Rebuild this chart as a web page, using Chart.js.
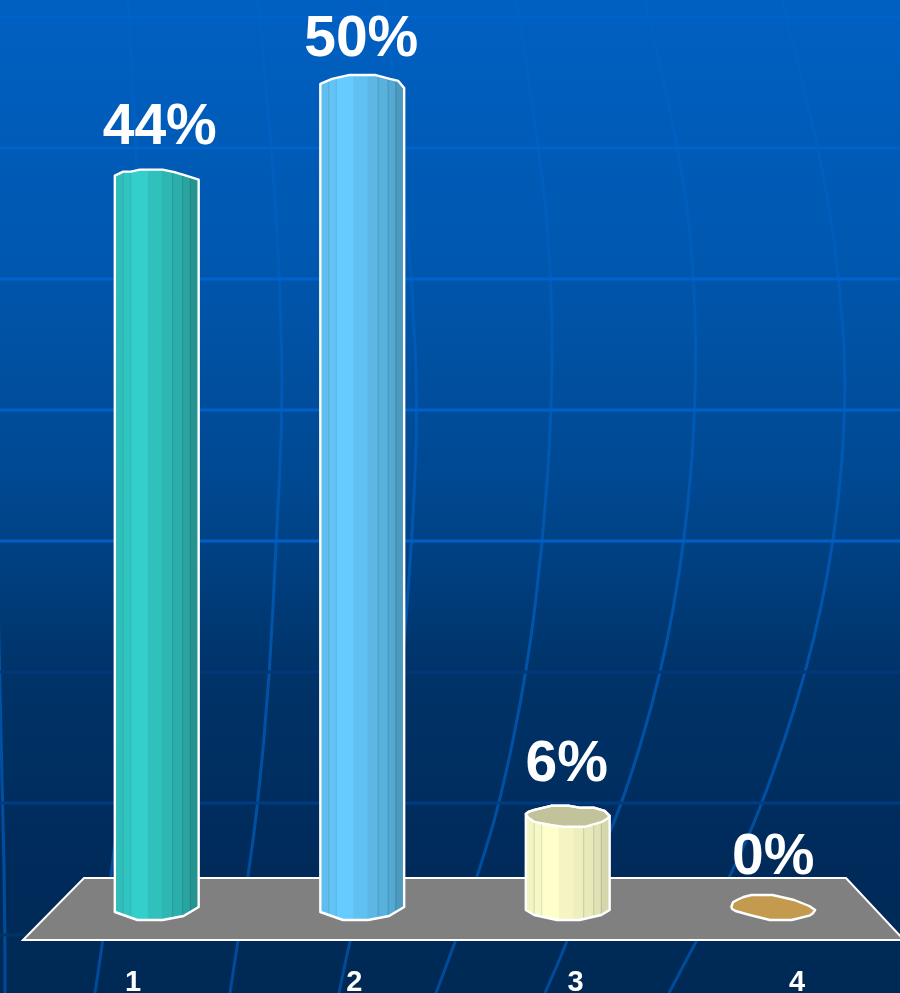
<!DOCTYPE html>
<html>
<head>
<meta charset="utf-8">
<title>Chart</title>
<style>
    html, body { margin: 0; padding: 0; background: #002a58; }
    canvas { display: block; }
</style>
<script src="https://cdn.jsdelivr.net/npm/chart.js@4"></script>
</head>
<body>
<canvas id="surveyChart" width="900" height="993"></canvas>
<script>
const categories = ['1', '2', '3', '4'];
const percentValues = [44.4, 50, 5.6, 0];
const percentLabels = ['44%', '50%', '6%', '0%'];
const barColors = ['#34cfca', '#66ccff', '#ffffcc', '#c49a4e'];

// bar look: outlines are [fraction of bar width, px from the value / base line]
const defaultBottom = [[1, -1], [0.82, 8], [0.57, 12], [0.27, 12], [0, 4]];
const barShapes = [
    {
        top: [[0, -1.5], [0.1, -5.5], [0.19, -5.5], [0.3, -7.5], [0.57, -7.5], [0.71, -5], [0.83, -2], [1, 2.5]],
        bottom: defaultBottom, depth: 1, labelDx: 3, labelGap: 33
    },
    {
        top: [[0, -1], [0.14, -6], [0.35, -10], [0.65, -10], [0.83, -6], [0.93, -4], [1, 3]],
        bottom: defaultBottom, depth: 0.85, labelDx: -1, labelGap: 29
    },
    {
        top: [[0, -2], [0.03, -4], [0.1, -6], [0.3, -10], [0.52, -10], [0.66, -8], [0.82, -8], [0.94, -5], [1, 0]],
        face: [[0.97, 3], [0.91, 6], [0.7, 11], [0.46, 11], [0.3, 9], [0.1, 6], [0.03, 2]],
        bottom: [[1, 2], [0.9, 7], [0.64, 12], [0.37, 12], [0.1, 7], [0, 2]],
        depth: 0.55, labelDx: -1, labelGap: 35
    },
    {
        top: [[0, -1.3], [0.02, -5.7], [0.067, -8], [0.145, -11], [0.24, -13], [0.49, -13], [0.75, -8], [0.93, -2], [1, 2]],
        bottom: [[0.97, 5.5], [0.93, 7.7], [0.72, 12], [0.46, 12], [0.22, 7], [0.05, 3], [0.01, 1]],
        depth: 0, labelDx: 0, labelGap: 34
    }
];
const facetStops = [0, 0.1, 0.19, 0.3, 0.4, 0.57, 0.69, 0.81, 0.9, 1];
const facetShades = [0.92, 0.95, 1, 1, 0.93, 0.88, 0.84, 0.79, 0.71];
const facetLines = [0.1, 0.19, 0.69, 0.81, 0.9];

// slide template behind the chart
const templateRows = [17, 148, 279, 410, 541, 672, 803, 935];
const templateRowColors = ['#0063cc', '#0063cc', '#0062cc', '#0060c8', '#0060c8', '#00387a', '#003d80', '#003468'];
const templateCurves = [
    [[128, 0], [136, 148], [142, 279], [144, 410], [140, 541], [132, 672], [120, 803], [103, 940], [95, 993]],
    [[258, 0], [272, 148], [280, 279], [283, 410], [276, 541], [270, 672], [258, 803], [248, 877], [238, 940], [230, 993]],
    [[385, 0], [400, 148], [412, 279], [418, 410], [412, 541], [402, 672], [384, 803], [350, 940], [339, 993]],
    [[516, 0], [540, 148], [552, 279], [552, 410], [543, 541], [527, 672], [500, 803], [477, 877], [456, 940], [436, 993]],
    [[645, 0], [680, 148], [695, 279], [696, 410], [685, 541], [662, 672], [623, 803], [590, 877], [568, 940], [545, 993]],
    [[782, 0], [820, 148], [840, 279], [847, 400], [835, 541], [807, 672], [763, 803], [730, 877], [697, 940], [669, 993]],
    [[-2, 600], [3, 800], [5, 935], [5, 993]]
];

function shade(hex, k) {
    const n = parseInt(hex.slice(1), 16);
    const c = [n >> 16, (n >> 8) & 255, n & 255].map(v => Math.round(v * k));
    return `rgb(${c[0]},${c[1]},${c[2]})`;
}

function tracePoints(ctx, points, el, left, baseY, start) {
    points.forEach((p, i) => {
        const x = left + p[0] * el.width;
        const y = baseY + p[1];
        if (i === 0 && start) ctx.moveTo(x, y);
        else ctx.lineTo(x, y);
    });
}

function drawBar(ctx, el, color, look) {
    const left = el.x - el.width / 2;

    ctx.save();
    ctx.beginPath();
    tracePoints(ctx, look.top, el, left, el.y, true);
    tracePoints(ctx, look.bottom, el, left, el.base, false);
    ctx.closePath();
    ctx.clip();

    // facets of the cylinder
    facetShades.forEach((k, i) => {
        ctx.fillStyle = shade(color, 1 - (1 - k) * look.depth);
        const x0 = left + facetStops[i] * el.width;
        const x1 = left + facetStops[i + 1] * el.width;
        ctx.fillRect(x0 - 0.5, el.y - 20, x1 - x0 + 1, el.base - el.y + 40);
    });
    if (look.depth > 0) {
        ctx.strokeStyle = 'rgba(0,60,80,0.16)';
        ctx.lineWidth = 1;
        facetLines.forEach(f => {
            ctx.beginPath();
            ctx.moveTo(left + f * el.width, el.y - 20);
            ctx.lineTo(left + f * el.width, el.base + 20);
            ctx.stroke();
        });
    }
    ctx.restore();

    // top face, only seen on the short bar
    ctx.strokeStyle = '#ffffff';
    ctx.lineWidth = 2.4;
    ctx.lineJoin = 'round';
    if (look.face) {
        ctx.beginPath();
        tracePoints(ctx, look.top, el, left, el.y, true);
        tracePoints(ctx, look.face, el, left, el.y, false);
        ctx.closePath();
        ctx.fillStyle = '#c2c29b';
        ctx.fill();
        ctx.stroke();
    }

    ctx.beginPath();
    tracePoints(ctx, look.top, el, left, el.y, true);
    tracePoints(ctx, look.bottom, el, left, el.base, false);
    ctx.closePath();
    ctx.stroke();
}

const slidePlugin = {
    id: 'slide',
    beforeDraw(chart) {
        const ctx = chart.ctx;
        const w = chart.width, h = chart.height;
        const bg = ctx.createLinearGradient(0, 0, 0, h);
        bg.addColorStop(0, '#0060c2');
        bg.addColorStop(0.25, '#0058b0');
        bg.addColorStop(0.5, '#00478f');
        bg.addColorStop(0.68, '#003368');
        bg.addColorStop(0.88, '#002a5a');
        bg.addColorStop(1, '#002a55');
        ctx.save();
        ctx.fillStyle = bg;
        ctx.fillRect(0, 0, w, h);

        const curveColor = ctx.createLinearGradient(0, 0, 0, h);
        curveColor.addColorStop(0, '#0062c6');
        curveColor.addColorStop(0.55, '#0056ae');
        curveColor.addColorStop(1, '#004a98');
        ctx.strokeStyle = curveColor;
        ctx.lineWidth = 3;
        templateCurves.forEach(curve => {
            ctx.beginPath();
            ctx.moveTo(curve[0][0], curve[0][1]);
            for (let i = 1; i < curve.length - 1; i++) {
                const mx = (curve[i][0] + curve[i + 1][0]) / 2;
                const my = (curve[i][1] + curve[i + 1][1]) / 2;
                ctx.quadraticCurveTo(curve[i][0], curve[i][1], mx, my);
            }
            const last = curve[curve.length - 1];
            ctx.lineTo(last[0], last[1]);
            ctx.stroke();
        });

        ctx.lineWidth = 3;
        templateRows.forEach((y, i) => {
            ctx.strokeStyle = templateRowColors[i];
            ctx.beginPath();
            ctx.moveTo(0, y);
            ctx.lineTo(w, y);
            ctx.stroke();
        });
        ctx.restore();
    },
    beforeDatasetsDraw(chart) {
        // grey floor the cylinders stand on
        const ctx = chart.ctx;
        const base = chart.scales.y.getPixelForValue(0);
        ctx.save();
        ctx.beginPath();
        ctx.moveTo(84, base - 30);
        ctx.lineTo(846, base - 30);
        ctx.lineTo(904, base + 32);
        ctx.lineTo(23, base + 32);
        ctx.closePath();
        ctx.fillStyle = '#808080';
        ctx.fill();
        ctx.strokeStyle = '#ffffff';
        ctx.lineWidth = 2;
        ctx.lineJoin = 'miter';
        ctx.stroke();
        ctx.restore();
    },
    beforeDatasetDraw(chart, args) {
        const ctx = chart.ctx;
        const colors = chart.data.datasets[args.index].backgroundColor;
        args.meta.data.forEach((el, i) => drawBar(ctx, el, colors[i], barShapes[i]));
        return false;
    },
    afterDatasetsDraw(chart) {
        const ctx = chart.ctx;
        const meta = chart.getDatasetMeta(0);
        ctx.save();
        ctx.font = "bold 57px 'Liberation Sans', Arial, sans-serif";
        ctx.fillStyle = '#ffffff';
        ctx.textAlign = 'center';
        ctx.textBaseline = 'alphabetic';
        meta.data.forEach((el, i) => {
            ctx.fillText(percentLabels[i], el.x + barShapes[i].labelDx, el.y - barShapes[i].labelGap);
        });
        ctx.restore();
    }
};

new Chart(document.getElementById('surveyChart'), {
    type: 'bar',
    data: {
        labels: categories,
        datasets: [{
            data: percentValues,
            backgroundColor: barColors,
            borderWidth: 0,
            categoryPercentage: 1,
            barPercentage: 0.408
        }]
    },
    options: {
        responsive: false,
        animation: false,
        layout: { padding: { left: 54, right: 24, top: 0, bottom: 0 } },
        plugins: {
            legend: { display: false },
            tooltip: { enabled: false }
        },
        scales: {
            x: { display: false },
            // labels sit on the near edge of the floor, so they spread wider than the bars
            xLabels: {
                type: 'linear',
                position: 'bottom',
                offset: false,
                min: 0.643,
                max: 4.357,
                afterBuildTicks: scale => {
                    scale.ticks = categories.map(c => ({ value: Number(c) }));
                },
                afterFit: scale => { scale.height = 85; },
                grid: { display: false },
                border: { display: false },
                ticks: {
                    autoSkip: false,
                    maxRotation: 0,
                    padding: 50,
                    color: '#ffffff',
                    font: { family: "'Liberation Sans', Arial, sans-serif", size: 29, weight: 'bold' },
                    callback: value => categories[value - 1]
                }
            },
            y: {
                display: false,
                min: 0,
                max: 55.16
            }
        }
    },
    plugins: [slidePlugin]
});
</script>
</body>
</html>
